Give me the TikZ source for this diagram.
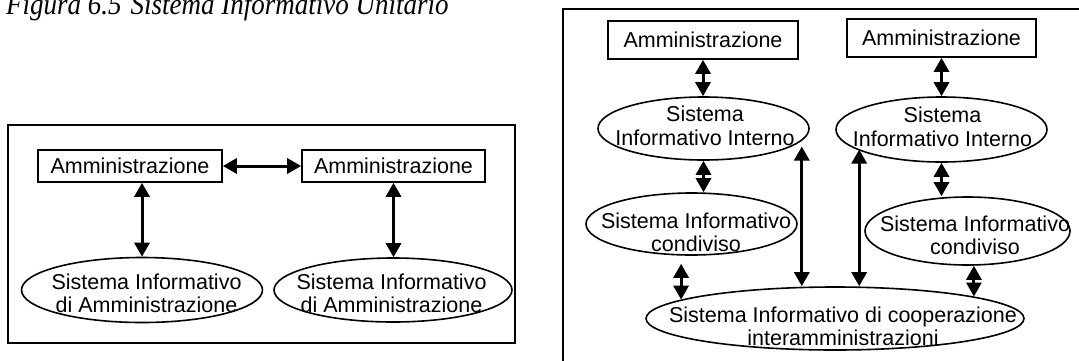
\documentclass[tikz,border=0pt]{standalone}
\usepackage{fontspec}
\setmainfont{Liberation Sans}
\newfontfamily\titlefont{Liberation Serif}
\usetikzlibrary{arrows.meta, shapes.geometric, calc}
\tikzset{abox/.style={draw, line width=1.6pt, inner sep=0pt, font=\fontsize{21.5}{23.5}\selectfont}}
\tikzset{sys/.style={draw, ellipse, line width=1.6pt, inner sep=0pt}}
\tikzset{lbl/.style={align=center, inner sep=0pt, font=\fontsize{21.5}{23.5}\selectfont}}
\tikzset{arr2/.style={draw, line width=3pt, {Triangle[length=14pt,width=15pt]}-{Triangle[length=14pt,width=15pt]}}}
\tikzset{frm/.style={draw, line width=1.6pt}}

\begin{document}
\begin{tikzpicture}[x=1pt, y=-1pt]
	\useasboundingbox (0,0) rectangle (1079,360);
	\clip (0,0) rectangle (1079,360);
	\node[anchor=base west, inner sep=0pt, font=\titlefont\itshape\fontsize{30}{32}\selectfont] (ttl) at (6,14) {\scalebox{0.9}[1]{Figura 6.5\hspace{10pt}Sistema Informativo Unitario}};
	% singola amministrazione
	\draw[frm] (8,125) rectangle (515,343);
	\node[abox, minimum width=184pt, minimum height=32pt] (B1) at (130,166) {Amministrazione};
	\node[abox, minimum width=183pt, minimum height=32pt] (B2) at (393.5,166) {Amministrazione};
	\node[sys, minimum width=241pt, minimum height=65pt, label={[lbl,xshift=4.5pt,yshift=-3.5pt]center:{Sistema Informativo\\di Amministrazione}}] (L1) at (142,290) {};
	\node[sys, minimum width=238pt, minimum height=64pt, label={[lbl,xshift=-1.5pt,yshift=-3.5pt]center:{Sistema Informativo\\di Amministrazione}}] (L2) at (393,290) {};
	\draw[arr2] (B1.east) -- (B2.west);
	\draw[arr2] (L1.north |- B1.south) -- (L1.north);
	\draw[arr2] (B2.south) -- (B2.south |- L2.north);
	% cooperazione
	\draw[frm] (563,9) rectangle (1090,370);
	\node[abox, minimum width=190pt, minimum height=38pt] (A) at (703,40) {Amministrazione};
	\node[abox, minimum width=189pt, minimum height=38pt] (B) at (941.5,38) {Amministrazione};
	\node[sys, minimum width=211pt, minimum height=63pt, label={[lbl,xshift=1.5pt,yshift=2.5pt]center:{Sistema\\Informativo Interno}}] (I1) at (703.5,128.5) {};
	\node[sys, minimum width=211pt, minimum height=65pt, label={[lbl,xshift=1pt,yshift=2.5pt]center:{Sistema\\Informativo Interno}}] (I2) at (941.5,129.5) {};
	\node[sys, minimum width=211pt, minimum height=62pt, label={[lbl,xshift=4.5pt,yshift=-8.5pt]center:{Sistema Informativo\\condiviso}}] (C1) at (691.5,224) {};
	\node[sys, minimum width=205pt, minimum height=68pt, label={[lbl,xshift=7.5pt,yshift=-4.5pt]center:{Sistema Informativo\\condiviso}}] (C2) at (967.5,231) {};
	\node[sys, minimum width=378pt, minimum height=63pt, label={[lbl,xshift=8pt,yshift=-8pt]center:{Sistema Informativo di cooperazione\\interamministrazioni}}] (G) at (835,318.5) {};
	\draw[arr2] (A.south) -- (A.south |- I1.north);
	\draw[arr2] (B.south) -- (B.south |- I2.north);
	\draw[arr2] (I1.south) -- (I1.south |- C1.north);
	\draw[arr2] (I2.south) -- (I2.south |- C2.north);
	\draw[arr2] ([yshift=-8pt]C1.south -| G.173) -- (G.173);
	\draw[arr2] (C2.south -| G.9) -- (G.9);
	\draw[arr2] ([xshift=-8pt,yshift=-18pt]I1.east) -- ([xshift=-8pt]I1.east |- G.north);
	\draw[arr2] ([xshift=24pt,yshift=-20pt]I2.west) -- ([xshift=24pt]I2.west |- G.north);
\end{tikzpicture}
\end{document}
